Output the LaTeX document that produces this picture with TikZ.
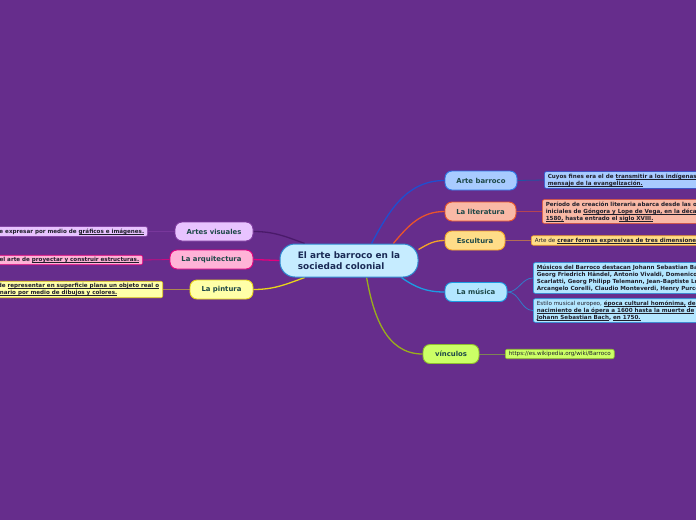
\documentclass[tikz,border=0pt]{standalone}
\usepackage{fontspec}
\setmainfont{DejaVu Sans}
\usetikzlibrary{backgrounds}
\newcommand\ulx[1]{\setbox0\hbox{#1}\rlap{\rule[-0.9pt]{\wd0}{0.4pt}}\box0\relax}
\definecolor{bgp}{HTML}{662D8C}
\definecolor{ctext}{HTML}{1A2A55}
\definecolor{ttext}{HTML}{1D4848}
\definecolor{ltext}{HTML}{1E1E2A}
\definecolor{cfill}{HTML}{C6ECFF}
\definecolor{cdraw}{HTML}{2F8AD0}
\definecolor{abfill}{HTML}{A8CBFF}
\definecolor{abdraw}{HTML}{2D78E8}
\definecolor{abline}{HTML}{1F4FD0}
\definecolor{litfill}{HTML}{F9B9A6}
\definecolor{litdraw}{HTML}{E9542B}
\definecolor{escfill}{HTML}{FFDD88}
\definecolor{escdraw}{HTML}{F4A326}
\definecolor{musfill}{HTML}{B3E6FF}
\definecolor{musdraw}{HTML}{1C9CE3}
\definecolor{vinfill}{HTML}{CCFF66}
\definecolor{vindraw}{HTML}{8FBE2E}
\definecolor{vinline}{HTML}{9AAE1C}
\definecolor{avfill}{HTML}{E8C3FF}
\definecolor{avdraw}{HTML}{7D3A9E}
\definecolor{avline}{HTML}{4A1A6A}
\definecolor{arqfill}{HTML}{FFB3D7}
\definecolor{arqdraw}{HTML}{E5007D}
\definecolor{pinfill}{HTML}{FFFFA8}
\definecolor{pindraw}{HTML}{E8D41A}
\tikzset{
  topic/.style={draw, line width=0.9pt, rounded corners=7pt, minimum height=19pt,
    inner xsep=3pt, inner ysep=2pt, font=\fontsize{6.9}{8}\selectfont\bfseries, text=ttext},
  leaf/.style={draw, line width=0.6pt, rounded corners=2pt, inner xsep=3.5pt, inner ysep=2pt,
    align=left, font=\fontsize{5.6}{7}\selectfont\bfseries, text=ltext},
  conn/.style={line width=1.3pt},
  lconn/.style={line width=0.8pt}
}
\begin{document}
\begin{tikzpicture}[x=1pt,y=-1pt]
\useasboundingbox (0,0) rectangle (696,520);
\clip (0,0) rectangle (696,520);
% central
\node[draw=cdraw, fill=cfill, line width=1pt, rounded corners=15pt, minimum width=138pt,
  minimum height=33pt, align=left, font=\fontsize{8.9}{11}\selectfont\bfseries, text=ctext]
  (c) at (349,260.5) {El arte barroco en la\\sociedad colonial};
% right topics
\node[topic, fill=abfill, draw=abdraw, minimum width=72pt] (ab) at (481,180.5) {Arte barroco};
\node[topic, fill=litfill, draw=litdraw, minimum width=71pt] (lit) at (480.5,211.5) {La literatura};
\node[topic, fill=escfill, draw=escdraw, minimum width=60pt] (esc) at (475,240.5) {Escultura};
\node[topic, fill=musfill, draw=musdraw, minimum width=62pt] (mus) at (476,292) {La música};
\node[topic, fill=vinfill, draw=vindraw, minimum width=56pt] (vin) at (451,354) {vínculos};
% left topics
\node[topic, fill=avfill, draw=avdraw, minimum width=78pt] (av) at (214,231.5) {Artes visuales};
\node[topic, fill=arqfill, draw=arqdraw, minimum width=83pt] (arq) at (211.5,259.5) {La arquitectura};
\node[topic, fill=pinfill, draw=pindraw, minimum width=63pt] (pin) at (221.5,289.5) {La pintura};
% right leaves
\node[leaf, anchor=west, fill=abfill, draw=abline] (abl) at (544,180)
  {Cuyos fines era el de \ulx{transmitir a los indígenas el}\\\ulx{mensaje de la evangelización.}};
\node[leaf, anchor=west, fill=litfill, draw=litdraw] (litl) at (542,211.5)
  {Período de creación literaria abarca desde las obras\\iniciales de \ulx{Góngora y Lope de Vega, en la década de}\\\ulx{1580,} hasta entrado el \ulx{siglo XVIII.}};
\node[leaf, anchor=west, fill=escfill, draw=escdraw] (escl) at (531,240.5)
  {{\mdseries Arte de} \ulx{crear formas expresivas de tres dimensiones.}};
\node[leaf, anchor=west, fill=musfill, draw=musdraw] (mus1) at (533,278)
  {\ulx{Músicos del Barroco destacan} Johann Sebastian Bach,\\Georg Friedrich Händel, Antonio Vivaldi, Domenico\\Scarlatti, Georg Philipp Telemann, Jean-Baptiste Lully,\\Arcangelo Corelli, Claudio Monteverdi, Henry Purcell.};
\node[leaf, anchor=west, fill=musfill, draw=musdraw] (mus2) at (533,310.5)
  {{\mdseries Estilo musical europeo,} \ulx{época cultural homónima,} \ulx{desde el}\\\ulx{nacimiento de la ópera a 1600 hasta la muerte de}\\\ulx{Johann Sebastian Bach}, \ulx{en 1750.}};
\node[leaf, anchor=west, fill=vinfill, draw=vindraw, font=\fontsize{5.6}{7}\selectfont] (vinl) at (505,354)
  {https://es.wikipedia.org/wiki/Barroco};
% left leaves
\node[leaf, anchor=east, fill=avfill, draw=avdraw] (avl) at (148,231.5)
  {de expresar por medio de \ulx{gráficos e imágenes.}};
\node[leaf, anchor=east, fill=arqfill, draw=arqdraw] (arql) at (143,260)
  {Es el arte de \ulx{proyectar y construir estructuras.}};
\node[leaf, anchor=east, fill=pinfill, draw=pindraw] (pinl) at (163,289.5)
  {Arte de \ulx{representar en superficie plana un objeto real o}\\\ulx{imaginario por medio de dibujos y colores.}};
\begin{scope}[on background layer]
  \fill[bgp] (0,0) rectangle (696,520);
  \draw[conn, abline] (c.37) to[out=62,in=180] (ab.west);
  \draw[conn, litdraw] (c.21) to[out=50,in=180] (lit.west);
  \draw[conn, escdraw] (c.9) to[out=30,in=180] (esc.west);
  \draw[conn, musdraw] (c.-18) to[out=-35,in=180] (mus.west);
  \draw[conn, vinline] (c.-44) to[out=-80,in=180] (vin.west);
  \draw[conn, avline] (c.159) to[out=160,in=0] (av.east);
  \draw[conn, arqdraw] (c.west) -- (arq.east);
  \draw[conn, pindraw] (c.201) to[out=200,in=0] (pin.east);
  \draw[lconn, abdraw!70!black] (ab.east) -- (abl.west);
  \draw[lconn, litdraw!60!bgp] (lit.east) -- (litl.west);
  \draw[lconn, escdraw!55!bgp] (esc.east) -- (escl.west);
  \draw[lconn, musdraw!70!bgp] (mus.east) to[out=0,in=180] (mus1.west);
  \draw[lconn, musdraw!70!bgp] (mus.east) to[out=0,in=180] (mus2.west);
  \draw[lconn, vindraw!60!bgp] (vin.east) -- (vinl.west);
  \draw[lconn, avdraw!80!bgp] (av.west) -- (avl.east);
  \draw[lconn, arqdraw!80!bgp] (arq.west) -- (arql.east);
  \draw[lconn, pindraw!55!bgp] (pin.west) -- (pinl.east);
\end{scope}
\end{tikzpicture}
\end{document}
